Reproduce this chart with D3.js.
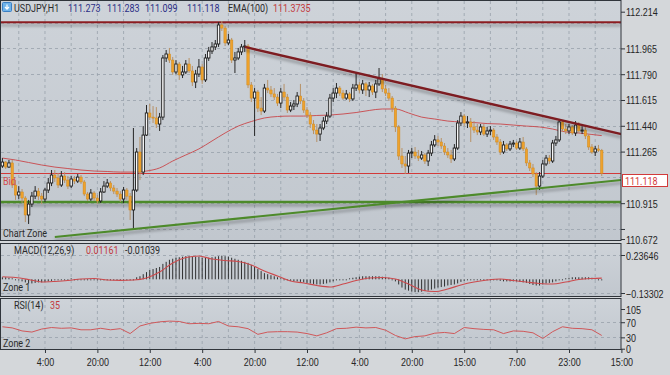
<!DOCTYPE html>
<html>
<head>
<meta charset="utf-8">
<script src="https://cdn.jsdelivr.net/npm/d3@7"></script>
<style>
  body { margin: 0; background: #d4d7da; }
  svg { display: block; font-family: Roboto, "Noto Sans", sans-serif; }
</style>
</head>
<body>
<svg id="chart" width="670" height="375"></svg>
<script>
// USDJPY H1 candles (open of each bar = previous close)
var firstOpen = 111.167;
var closes = [111.194,111.160,111.188,111.038,110.970,110.991,110.950,110.835,110.909,110.963,
  110.997,110.963,110.943,111.004,111.052,111.106,111.086,111.038,111.099,111.072,
  111.031,111.079,111.065,111.092,111.059,110.977,110.943,110.984,110.950,110.930,
  110.991,111.031,111.052,111.018,110.997,110.977,110.943,111.004,110.963,110.869,
  111.004,111.262,111.126,111.377,111.527,111.499,111.493,111.452,111.499,111.900,
  111.927,111.886,111.805,111.859,111.785,111.805,111.859,111.812,111.737,111.791,
  111.839,111.751,111.900,111.947,111.975,111.995,112.124,112.103,112.002,112.022,
  111.886,111.900,111.941,111.975,111.981,111.717,111.628,111.669,111.560,111.540,
  111.696,111.683,111.656,111.635,111.594,111.669,111.635,111.547,111.574,111.588,
  111.642,111.608,111.547,111.513,111.452,111.411,111.384,111.425,111.472,111.506,
  111.628,111.662,111.696,111.662,111.628,111.656,111.622,111.696,111.717,111.683,
  111.724,111.683,111.710,111.669,111.724,111.758,111.690,111.662,111.628,111.560,
  111.432,111.235,111.181,111.167,111.255,111.262,111.235,111.221,111.242,111.201,
  111.255,111.310,111.344,111.330,111.303,111.262,111.242,111.215,111.289,111.459,
  111.506,111.459,111.466,111.432,111.411,111.398,111.432,111.384,111.405,111.411,
  111.364,111.330,111.262,111.310,111.283,111.316,111.323,111.289,111.330,111.283,
  111.188,111.154,111.113,111.031,111.099,111.181,111.221,111.201,111.323,111.344,
  111.466,111.418,111.405,111.432,111.391,111.445,111.405,111.411,111.371,111.296,
  111.262,111.283,111.273,111.118];
var highs = [111.221,111.201,111.208,111.208,111.072,111.031,111.011,110.963,110.937,110.991,
  111.031,111.018,110.984,111.018,111.086,111.140,111.140,111.120,111.133,111.126,
  111.099,111.099,111.099,111.113,111.106,111.072,110.991,111.011,110.997,110.970,
  111.018,111.065,111.079,111.065,111.038,111.018,110.997,111.025,111.018,110.984,
  111.425,111.289,111.364,111.438,111.581,111.588,111.574,111.567,111.527,111.920,
  111.954,111.968,111.907,111.886,111.873,111.846,111.886,111.900,111.846,111.819,
  111.893,111.859,111.927,111.975,112.008,112.022,112.144,112.151,112.117,112.063,
  112.036,111.941,111.968,111.995,112.022,111.995,111.737,111.696,111.683,111.635,
  111.724,111.751,111.710,111.696,111.656,111.696,111.724,111.656,111.601,111.615,
  111.669,111.724,111.628,111.567,111.533,111.479,111.452,111.452,111.499,111.533,
  111.656,111.696,111.730,111.710,111.683,111.683,111.669,111.724,111.798,111.737,
  111.751,111.737,111.737,111.724,111.751,111.832,111.791,111.717,111.696,111.642,
  111.574,111.445,111.289,111.235,111.276,111.289,111.296,111.276,111.269,111.255,
  111.276,111.337,111.377,111.371,111.357,111.323,111.289,111.276,111.316,111.479,
  111.533,111.520,111.506,111.493,111.472,111.452,111.452,111.452,111.432,111.438,
  111.425,111.384,111.350,111.337,111.323,111.337,111.344,111.337,111.357,111.364,
  111.296,111.208,111.181,111.126,111.126,111.208,111.242,111.242,111.344,111.371,
  111.486,111.479,111.452,111.452,111.445,111.472,111.466,111.438,111.438,111.384,
  111.316,111.303,111.310,111.283];
var lows = [111.154,111.147,111.154,111.018,110.937,110.943,110.916,110.787,110.774,110.889,
  110.943,110.937,110.909,110.923,110.984,111.031,111.059,111.018,111.025,111.052,
  111.011,111.018,111.045,111.052,111.045,110.963,110.930,110.930,110.930,110.909,
  110.916,110.984,111.018,110.997,110.977,110.957,110.923,110.916,110.937,110.801,
  110.746,110.991,111.072,111.106,111.371,111.479,111.459,111.425,111.405,111.479,
  111.873,111.866,111.785,111.791,111.751,111.764,111.791,111.798,111.710,111.696,
  111.771,111.724,111.737,111.880,111.927,111.954,111.975,112.083,111.981,111.988,
  111.866,111.798,111.886,111.920,111.941,111.696,111.601,111.371,111.533,111.513,
  111.527,111.662,111.635,111.615,111.574,111.560,111.615,111.527,111.533,111.547,
  111.567,111.588,111.527,111.493,111.425,111.384,111.330,111.337,111.411,111.452,
  111.493,111.601,111.628,111.642,111.615,111.615,111.601,111.608,111.676,111.662,
  111.656,111.642,111.635,111.649,111.628,111.710,111.669,111.642,111.608,111.533,
  111.398,111.208,111.154,111.113,111.120,111.221,111.215,111.201,111.208,111.181,
  111.167,111.235,111.296,111.303,111.283,111.242,111.221,111.188,111.201,111.276,
  111.438,111.438,111.425,111.330,111.391,111.377,111.377,111.371,111.364,111.377,
  111.344,111.310,111.242,111.249,111.269,111.269,111.296,111.276,111.276,111.269,
  111.167,111.133,111.092,110.970,111.004,111.086,111.167,111.181,111.188,111.303,
  111.330,111.398,111.384,111.384,111.377,111.371,111.391,111.384,111.350,111.276,
  111.249,111.235,111.262,111.099];

// EMA(100), read every 4th bar (last point is bar 183)
var emaBars = d3.range(0, 184, 4).concat([183]);
var emaValues = [111.221,111.208,111.191,111.174,111.160,111.150,111.140,111.133,111.130,111.126,
  111.126,111.133,111.154,111.201,111.242,111.283,111.337,111.391,111.438,111.469,
  111.493,111.503,111.506,111.506,111.510,111.513,111.520,111.530,111.544,111.554,
  111.554,111.527,111.499,111.486,111.472,111.466,111.462,111.455,111.452,111.445,
  111.438,111.432,111.418,111.398,111.391,111.381,111.3735];

// drawn lines: horizontal levels and two trendlines [bar, price]
var resistanceLevel = 112.142;
var supportLevel = 110.923;
var downTrend = [[74, 111.975], [189, 111.384]];
var upTrend = [[16, 110.686], [189, 111.072]];
var bidPrice = 111.118;

// MACD(12,26,9)
var macdHist = [0.02,0.02,0.015,0.01,0,-0.01,
  -0.02,-0.03,-0.04,-0.04,-0.035,-0.03,-0.03,-0.025,
  -0.02,-0.015,-0.01,-0.005,0,0.005,0.005,0.01,0.008,0.005,0.003,0,-0.003,-0.005,-0.005,-0.006,-0.004,0,0.003,0.004,0.004,0.002,0,-0.002,-0.004,-0.006,0,
  0.02,0.03,0.05,0.07,0.09,0.10,0.11,0.12,0.15,
  0.17,0.19,0.20,0.21,0.215,0.22,0.225,0.225,0.22,0.22,0.22,
  0.21,0.21,0.21,0.215,0.22,0.225,0.23,0.225,0.22,0.21,
  0.20,0.19,0.18,0.17,0.16,
  0.14,0.12,0.10,0.08,0.06,0.05,0.04,0.03,0.02,
  0.01,0,-0.01,-0.015,-0.02,-0.02,-0.025,-0.03,-0.035,-0.04,-0.045,-0.05,-0.05,-0.045,-0.04,-0.03,
  -0.02,-0.01,-0.005,0,0.005,0.01,0.015,0.02,0.025,0.03,0.03,0.03,0.03,0.03,0.03,0.025,0.02,0.015,
  0.005,-0.02,-0.05,-0.08,-0.10,-0.11,-0.12,-0.125,-0.125,-0.12,-0.115,-0.11,-0.10,-0.09,-0.08,-0.075,-0.07,
  -0.06,-0.055,-0.05,-0.04,-0.025,-0.015,-0.005,0,
  0,0.005,0.005,0.003,0,-0.003,-0.005,-0.01,-0.015,-0.02,-0.02,-0.02,-0.02,-0.02,-0.025,
  -0.03,-0.035,-0.045,-0.055,-0.06,-0.06,-0.05,-0.04,-0.035,-0.03,
  -0.02,-0.01,0,0.01,0.015,0.02,0.02,0.02,0.02,0.02,0.02,0.015,0.01,0.005,-0.01039];
var signalBars = d3.range(0, 184, 4).concat([183]);
var signalValues = [0.025,0.018,-0.002,-0.026,-0.021,-0.012,0.003,0.008,-0.007,-0.010,
  -0.007,0.013,0.071,0.159,0.212,0.227,0.197,0.183,0.173,0.139,
  0.081,0.032,-0.017,-0.036,-0.060,-0.075,-0.046,-0.012,0.013,0.018,
  0.003,-0.046,-0.104,-0.119,-0.094,-0.055,-0.026,-0.007,0.003,-0.012,
  -0.026,-0.041,-0.046,-0.026,-0.002,0.008,0.01161];

// RSI(14), read every 3rd bar
var rsiBars = d3.range(0, 184, 3);
var rsiValues = [58,55,47,44,52,56,54,55,50,50,54,50,53,40,60,67,71,73,72,66,
  67,66,72,60,58,53,38,44,45,45,44,40,34,42,53,54,57,55,56,49,
  35,26,32,34,41,43,40,56,53,51,50,40,47,46,42,27,45,58,54,53,50,35];

// axes
var timeLabels = ['4:00','20:00','12:00','4:00','20:00','12:00','4:00','20:00','15:00','7:00','23:00','15:00'];
var timeLabelBars = [13,29,45,61,77,93,109,125,141,157,173,189];
var priceLabels = [112.214,111.965,111.790,111.615,111.440,111.265,110.915,110.672];
var priceGrid = [112.140,111.965,111.790,111.615,111.440,111.265,111.090,110.915,110.740];
var macdLabels = [0.23646,-0.13302];
var rsiLabels = [105,70,30,0];
var rsiGrid = [70,30];

var svg = d3.select('#chart');
var defs = svg.append('defs');
var fs = 11.5, sx = 0.78; // glyphs in the reference are tall and narrow

var grad = defs.append('linearGradient').attr('id', 'bg')
    .attr('x1', 0).attr('y1', 0).attr('x2', 0).attr('y2', 1);
grad.append('stop').attr('offset', '0%').attr('stop-color', '#ced3d9');
grad.append('stop').attr('offset', '100%').attr('stop-color', '#c1c7ce');

var shadow = defs.append('filter').attr('id', 'shadow')
    .attr('filterUnits', 'userSpaceOnUse')
    .attr('x', 0).attr('y', 0).attr('width', 670).attr('height', 375);
shadow.append('feDropShadow').attr('dx', 0).attr('dy', 3).attr('stdDeviation', 1.6)
    .attr('flood-color', '#000').attr('flood-opacity', 0.3);

defs.append('clipPath').attr('id', 'clipMain')
    .append('rect').attr('x', 0).attr('y', 0).attr('width', 621).attr('height', 240);

var plotRight = 621;
var panels = [{ top: 0, bottom: 240 }, { top: 243, bottom: 296 }, { top: 298, bottom: 349 }];

var x = d3.scaleLinear().domain([0, 189]).range([2.4, 621.4]);
var y = d3.scaleLinear().domain([110.672, 112.214]).range([239, 11.7]);
var yMacd = d3.scaleLinear().domain([-0.13302, 0.23646]).range([293, 255]);
var yRsi = d3.scaleLinear().domain([0, 105]).range([348.7, 309]);

function label(g, px, py, str, color, anchor) {
    return g.append('text')
        .attr('transform', 'translate(' + px + ',' + py + ') scale(' + sx + ',1)')
        .attr('text-anchor', anchor || 'start')
        .attr('font-size', fs)
        .attr('fill', color)
        .text(str);
}

// panel backgrounds and vertical grid
panels.forEach(function(p) {
    svg.append('rect').attr('x', 0.5).attr('y', p.top + 0.5)
        .attr('width', plotRight - 0.5).attr('height', p.bottom - p.top)
        .attr('fill', 'url(#bg)');
    svg.append('g').selectAll('line')
        .data(d3.range(5, 189, 8))
        .join('line')
        .attr('x1', function(d) { return x(d); }).attr('x2', function(d) { return x(d); })
        .attr('y1', p.top + 1).attr('y2', p.bottom)
        .attr('stroke', '#98a1ab').attr('stroke-width', 0.8).attr('stroke-dasharray', '3,3');
});

// horizontal grid
function hGrid(vals, scale) {
    svg.append('g').selectAll('line')
        .data(vals)
        .join('line')
        .attr('x1', 1).attr('x2', plotRight)
        .attr('y1', function(d) { return Math.round(scale(d)) + 0.5; })
        .attr('y2', function(d) { return Math.round(scale(d)) + 0.5; })
        .attr('stroke', '#98a1ab').attr('stroke-width', 0.8).attr('stroke-dasharray', '3,3');
}
hGrid(priceGrid, y);
hGrid(macdLabels, yMacd);
hGrid(rsiGrid, yRsi);

var main = svg.append('g').attr('clip-path', 'url(#clipMain)');

// horizontal levels with shadow
main.append('line')
    .attr('x1', 0).attr('x2', plotRight)
    .attr('y1', y(resistanceLevel)).attr('y2', y(resistanceLevel))
    .attr('stroke', '#8c1f22').attr('stroke-width', 2).attr('filter', 'url(#shadow)');
main.append('line')
    .attr('x1', 0).attr('x2', plotRight)
    .attr('y1', y(supportLevel)).attr('y2', y(supportLevel))
    .attr('stroke', '#4d8a2c').attr('stroke-width', 2.4).attr('filter', 'url(#shadow)');

// EMA(100)
main.append('path')
    .datum(emaBars.map(function(b, i) { return [b, emaValues[i]]; }))
    .attr('fill', 'none').attr('stroke', '#c9474a').attr('stroke-width', 1)
    .attr('stroke-opacity', 0.9)
    .attr('d', d3.line().curve(d3.curveMonotoneX)
        .x(function(d) { return x(d[0]); })
        .y(function(d) { return y(d[1]); }));

// bid line
main.append('line')
    .attr('x1', 0).attr('x2', plotRight)
    .attr('y1', Math.round(y(bidPrice)) + 0.5).attr('y2', Math.round(y(bidPrice)) + 0.5)
    .attr('stroke', '#d23a3a').attr('stroke-width', 1);

// candles
var candles = closes.map(function(c, i) {
    return { i: i, o: i === 0 ? firstOpen : closes[i - 1], h: highs[i], l: lows[i], c: c };
});
var cg = main.append('g').selectAll('g').data(candles).join('g');
cg.append('line')
    .attr('x1', function(d) { return x(d.i); }).attr('x2', function(d) { return x(d.i); })
    .attr('y1', function(d) { return y(d.h); }).attr('y2', function(d) { return y(d.l); })
    .attr('stroke', function(d) { return d.c >= d.o ? '#262626' : '#b79166'; })
    .attr('stroke-width', 1);
cg.append('rect')
    .attr('x', function(d) { return x(d.i) - 1.2; })
    .attr('width', 2.4)
    .attr('y', function(d) { return y(Math.max(d.o, d.c)); })
    .attr('height', function(d) { return Math.max(1, Math.abs(y(d.o) - y(d.c))); })
    .attr('fill', function(d) { return d.c >= d.o ? '#f7f7f7' : '#efa22c'; })
    .attr('stroke', function(d) { return d.c >= d.o ? '#1b1b1b' : '#cf8a1e'; })
    .attr('stroke-width', function(d) { return d.c >= d.o ? 0.9 : 0.5; });

// trendlines
[[downTrend, '#7d1d20', 2.4], [upTrend, '#4d8a2c', 2]].forEach(function(t) {
    main.append('line')
        .attr('x1', x(t[0][0][0])).attr('y1', y(t[0][0][1]))
        .attr('x2', x(t[0][1][0])).attr('y2', y(t[0][1][1]))
        .attr('stroke', t[1]).attr('stroke-width', t[2])
        .attr('filter', 'url(#shadow)');
});

// MACD histogram and signal
svg.append('g').selectAll('line')
    .data(macdHist)
    .join('line')
    .attr('x1', function(d, i) { return x(i); }).attr('x2', function(d, i) { return x(i); })
    .attr('y1', yMacd(0))
    .attr('y2', function(d) { return Math.abs(yMacd(d) - yMacd(0)) < 1 ? yMacd(0) + 1 : yMacd(d); })
    .attr('stroke', '#1e1e1e').attr('stroke-width', 0.9);
svg.append('path')
    .datum(signalBars.map(function(b, i) { return [b, signalValues[i]]; }))
    .attr('fill', 'none').attr('stroke', '#cc4a4d').attr('stroke-width', 1.1)
    .attr('d', d3.line().curve(d3.curveMonotoneX)
        .x(function(d) { return x(d[0]); })
        .y(function(d) { return yMacd(d[1]); }));

// RSI
svg.append('path')
    .datum(rsiBars.map(function(b, i) { return [b, rsiValues[i]]; }))
    .attr('fill', 'none').attr('stroke', '#d0585a').attr('stroke-width', 1)
    .attr('d', d3.line()
        .x(function(d) { return x(d[0]); })
        .y(function(d) { return yRsi(d[1]); }));

// panel borders
panels.forEach(function(p) {
    svg.append('rect').attr('x', 0.5).attr('y', p.top + 0.5)
        .attr('width', plotRight - 0.5).attr('height', p.bottom - p.top)
        .attr('fill', 'none').attr('stroke', '#30353b').attr('stroke-width', 1);
});

// right axes
function rightAxis(scale, vals, fmt) {
    var g = svg.append('g').attr('transform', 'translate(' + plotRight + ',0)')
        .call(d3.axisRight(scale).tickValues(vals).tickSize(4).tickFormat(fmt));
    g.select('.domain').remove();
    g.selectAll('.tick line').attr('stroke', '#30353b');
    g.selectAll('.tick text')
        .attr('x', null).attr('dy', null)
        .attr('transform', 'translate(5,4) scale(' + sx + ',1)')
        .attr('font-size', fs).attr('font-family', null).attr('fill', '#262626');
    return g;
}
var priceTicks = priceLabels.concat([110.740]);
rightAxis(y, priceTicks, function(d) { return priceLabels.indexOf(d) >= 0 ? d3.format('.3f')(d) : ''; });
rightAxis(yMacd, macdLabels, d3.format('.5f'));
rightAxis(yRsi, rsiLabels, d3.format('d'));

// bid price box
var bidY = Math.round(y(bidPrice)) + 1;
svg.append('rect').attr('x', 622.5).attr('y', bidY + 0.5).attr('width', 45).attr('height', 12)
    .attr('fill', '#ffffff').attr('stroke', '#d23a3a').attr('stroke-width', 1);
label(svg, 625, bidY + 10.5, d3.format('.3f')(bidPrice), '#d23a3a');

// bottom time axis
var xg = svg.append('g').attr('transform', 'translate(0,349)')
    .call(d3.axisBottom(x).tickValues(timeLabelBars).tickSize(4)
        .tickFormat(function(d, i) { return timeLabels[i]; }));
xg.select('.domain').remove();
xg.selectAll('.tick line').attr('stroke', '#30353b');
xg.selectAll('.tick text')
    .attr('y', null).attr('dy', null)
    .attr('transform', 'translate(0,16.5) scale(' + sx + ',1)')
    .attr('font-size', fs).attr('font-family', null).attr('fill', '#262626');

// header
var icon = svg.append('g');
icon.append('rect').attr('x', 2.5).attr('y', 2.5).attr('width', 9).attr('height', 9).attr('rx', 1)
    .attr('fill', '#6fb3ea').attr('stroke', '#3a7fc4');
icon.append('path').attr('d', 'M7,4.5 L7,9 M5,7 L7,9.2 L9,7')
    .attr('fill', 'none').attr('stroke', '#ffffff').attr('stroke-width', 1.2);
label(svg, 14, 11.5, 'USDJPY,H1', '#2a2a2a');
label(svg, 68, 11.5, '111.273', '#2c2f86');
label(svg, 107, 11.5, '111.283', '#2c2f86');
label(svg, 145, 11.5, '111.099', '#2c2f86');
label(svg, 187, 11.5, '111.118', '#2c2f86');
label(svg, 228, 11.5, 'EMA(100)', '#2a2a2a');
label(svg, 273, 11.5, '111.3735', '#c23b3e');

// panel captions
label(svg, 3, 185, 'Bid', '#d44b4b');
label(svg, 3, 237, 'Chart Zone', '#2a2a2a');
label(svg, 14, 254, 'MACD(12,26,9)', '#2a2a2a');
label(svg, 86, 254, '0.01161', '#c23b3e');
label(svg, 125, 254, '-0.01039', '#2a2a2a');
label(svg, 3, 291, 'Zone 1', '#2a2a2a');
label(svg, 14, 309, 'RSI(14)', '#2a2a2a');
label(svg, 50, 309, '35', '#c23b3e');
label(svg, 3, 347, 'Zone 2', '#2a2a2a');
</script>
</body>
</html>
